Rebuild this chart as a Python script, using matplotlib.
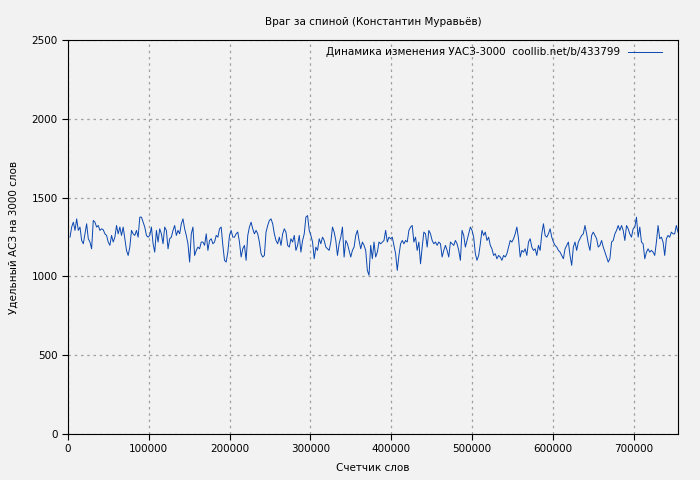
import numpy as np
import matplotlib
matplotlib.use("Agg")
import matplotlib.pyplot as plt

seg1 = [1249,1313,1344,1292,1365,1292,1313,1228,1207,1270,1334,1239,1218,1175,1355,1344,1313,1323,1292,1302,1296,1270,1260,1218,1197,1260,1218,1249,1323,1270,1313,1260,1313,1239,1165,1133,1186,1292,1270,1260,1292,1249,1376,1376,1344,1313,1260,1249,1260,1313,1207,1154,1292,1218,1302,1270,1207,1313,1292,1175,1239,1249,1292,1323,1260,1292,1270,1334,1365,1302,1260,1207,1091,1270,1313,1133,1165,1186,1175,1218,1218,1197,1270,1165,1228,1239,1207,1218,1260,1249,1302,1313,1197,1102,1091,1154,1260,1292,1249,1249,1270,1281,1218,1123,1175,1197,1102,1260,1313,1344,1302,1270,1292,1270,1218,1144,1123,1133,1281,1323,1355,1365,1334,1270,1228,1207,1249,1197,1270,1302,1281,1197,1186,1239,1218,1260,1165,1197,1260,1154,1228,1270,1376,1386,1292,1260,1218,1112,1186,1165,1239,1207,1249,1228,1186,1175,1165,1218,1313,1281,1228,1133,1207,1249,1313,1123,1228,1207,1165,1123,1165,1186,1260,1292,1228,1175,1218,1197,1165,1038,1007,1197,1112,1218]
seg2 = [1123,1154,1218,1207,1218,1228,1292,1218,1249,1239,1249,1197,1144,1038,1133,1207,1228,1207,1228,1218,1292,1313,1323,1218,1249,1165,1218,1080,1186,1281,1270,1186,1292,1270,1228,1207,1218,1197,1218,1207,1123,1165,1197,1165,1123,1218,1207,1197,1228,1207,1165,1102,1292,1260,1186,1228,1270,1313,1292,1249,1144,1102,1133,1207,1292,1260,1281,1228,1249,1197,1175,1133,1144,1112,1133,1123,1102,1133,1123,1144,1186,1228,1218,1239,1270,1313,1239,1123,1165,1154,1175,1133,1218,1239,1186,1165,1175,1133,1197,1165,1270,1334,1260,1249,1270,1302,1249,1218,1197,1186,1165,1154,1133,1112,1175,1197,1218,1133,1070,1186,1218,1165,1218,1239,1260,1270,1323,1270,1207,1165,1260,1281,1260,1239,1186,1197,1228,1186,1154,1123,1091,1112,1218,1228,1270,1292,1323,1292,1323,1292,1228,1323,1302,1270,1249,1302,1313,1376,1249,1313,1218,1207,1112,1154,1175,1154,1165,1154,1133,1218,1323,1239,1249,1218,1133,1239,1260,1249,1281,1270,1270,1323,1281]
values = seg1 + seg2
x_start, x_end = 2500, 755000
xticks = [0,100000,200000,300000,400000,500000,600000,700000]
yticks = [0,500,1000,1500,2000,2500]

bg = "#f2f2f2"
fig = plt.figure(figsize=(7,4.8), dpi=100, facecolor=bg)
ax = fig.add_axes([68/700, 1-434/480, 610/700, 394/480], facecolor=bg)
x = np.linspace(x_start, x_end, len(values))
ax.plot(x, values, color="#0a47b0", lw=0.7, label="Динамика изменения УАСЗ-3000  coollib.net/b/433799")
ax.set_xlim(0, 755000)
ax.set_ylim(0, 2500)
ax.set_xticks(xticks)
ax.set_xticklabels([str(t) for t in xticks])
ax.set_yticks(yticks)
ax.grid(True, color="#a0a0a0", ls=(0,(2,3)), lw=0.9)
ax.tick_params(direction="out", labelsize=7.5, length=4, colors="black")
ax.set_title("Враг за спиной (Константин Муравьёв)", fontsize=7.5, pad=11)
ax.set_xlabel("Счетчик слов", fontsize=7.5, labelpad=6)
ax.set_ylabel("Удельный АСЗ на 3000 слов", fontsize=7.5, labelpad=9)
ax.legend(loc="upper right", fontsize=7.5, frameon=False, handlelength=3.2,
          markerfirst=False, borderaxespad=0.3, bbox_to_anchor=(0.985, 1.0))
fig.savefig("out.png", dpi=100, facecolor=bg)
